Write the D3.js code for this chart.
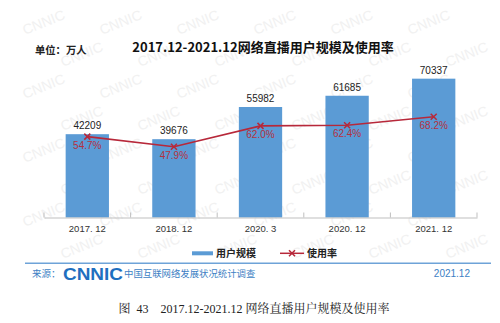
<!DOCTYPE html>
<html><head><meta charset="utf-8">
<script src="https://cdn.jsdelivr.net/npm/d3@7"></script>
<style>body{margin:0;background:#fff}svg{display:block}</style>
</head><body>
<script>
const categories = ["2017. 12","2018. 12","2020. 3","2020. 12","2021. 12"];
const users = [42209, 39676, 55982, 61685, 70337];
const rates = [54.7, 47.9, 62.0, 62.4, 68.2];
const rateLabels = ["54.7%","47.9%","62.0%","62.4%","68.2%"];
const legendLabels = ["用户规模","使用率"];

const W=500,H=323;
const svg=d3.select("body").append("svg").attr("width",W).attr("height",H);
const sans="'Liberation Sans', Arial, 'Noto Sans CJK SC', sans-serif";
const cjk="'Noto Sans CJK SC', 'Liberation Sans', sans-serif";

// faint watermark (kept inside the canvas)
const wm=svg.append("g").attr("fill","#f1f1f1").attr("font-family",sans).attr("font-size",14);
for(let r=0;r<8;r++){
  for(let c=0;c<6;c++){
    const x=25+c*77+(r%2)*38, y=35+r*32;
    if(x>450||y>300) continue;
    wm.append("text").attr("transform",`translate(${x},${y}) rotate(-22)`).text("CNNIC");
  }
}

const x0=44,x1=477,base=217.5;
const x=d3.scaleBand().domain(categories).range([x0,x1]).paddingInner(0).paddingOuter(0);
const y=d3.scaleLinear().domain([0,80000]).range([base,59.6]);
const y2=d3.scaleLinear().domain([0,100]).range([base,69.7]);
const bw=x.bandwidth()*0.5;

// title
svg.append("text").attr("x",263).attr("y",51.5).attr("text-anchor","middle")
  .attr("font-family",cjk).attr("font-weight","bold").attr("font-size",13).attr("fill","#111")
  .text("2017.12-2021.12网络直播用户规模及使用率");
svg.append("text").attr("x",35).attr("y",54).attr("font-family",cjk).attr("font-weight","bold")
  .attr("font-size",10.3).attr("fill","#222").text("单位：万人");

// bars
svg.append("g").selectAll("rect").data(users).join("rect")
  .attr("x",(d,i)=>x(categories[i])+x.bandwidth()/2-bw/2)
  .attr("y",d=>y(d)).attr("width",bw).attr("height",d=>base-y(d)).attr("fill","#5b9bd5");
svg.append("g").selectAll("text").data(users).join("text")
  .attr("x",(d,i)=>x(categories[i])+x.bandwidth()/2).attr("y",d=>y(d)-5)
  .attr("text-anchor","middle").attr("font-family",sans).attr("font-size",10).attr("fill","#222").text(d=>d);

// axis
const ax=svg.append("g").attr("transform",`translate(0,${base})`)
  .call(d3.axisBottom(x).tickSize(0).tickFormat(d=>d));
ax.select(".domain").attr("stroke","#bfbfbf");
ax.selectAll("text").attr("font-family",sans).attr("font-size",9.5).attr("fill","#333").attr("dy","0.75em").attr("y",7);
const bounds=[x0].concat(categories.map(c=>x(c)+x.bandwidth()));
svg.append("g").selectAll("line").data(bounds).join("line")
  .attr("x1",d=>d).attr("x2",d=>d).attr("y1",base).attr("y2",base-5).attr("stroke","#bfbfbf");

// line
const lineColor="#b7283a";
const cx=i=>x(categories[i])+x.bandwidth()/2;
svg.append("path").datum(rates).attr("fill","none").attr("stroke",lineColor).attr("stroke-width",1.6)
  .attr("d",d3.line().x((d,i)=>cx(i)).y(d=>y2(d)));
const m=3;
svg.append("g").selectAll("path").data(rates).join("path")
  .attr("d",(d,i)=>{const X=cx(i),Y=y2(d);return `M${X-m},${Y-m}L${X+m},${Y+m}M${X-m},${Y+m}L${X+m},${Y-m}`;})
  .attr("stroke",lineColor).attr("stroke-width",1.5);
svg.append("g").selectAll("text").data(rates).join("text")
  .attr("x",(d,i)=>cx(i)).attr("y",d=>y2(d)+12)
  .attr("text-anchor","middle").attr("font-family",sans).attr("font-size",10).attr("fill","#b53040")
  .text((d,i)=>rateLabels[i]);

// legend
const lg=svg.append("g").attr("font-family",cjk).attr("font-size",10).attr("fill","#222");
lg.append("rect").attr("x",192).attr("y",251.3).attr("width",21).attr("height",4).attr("fill","#5b9bd5");
lg.append("text").attr("x",216).attr("y",257).attr("font-weight","bold").text(legendLabels[0]);
lg.append("line").attr("x1",280).attr("x2",304).attr("y1",253.3).attr("y2",253.3).attr("stroke",lineColor).attr("stroke-width",1.5);
lg.append("path").attr("d",`M${292-m},${253.3-m}L${292+m},${253.3+m}M${292-m},${253.3+m}L${292+m},${253.3-m}`).attr("stroke",lineColor).attr("stroke-width",1.5);
lg.append("text").attr("x",307).attr("y",257).attr("font-weight","bold").text(legendLabels[1]);

// footer
const blue="#3d7fc4";
svg.append("line").attr("x1",25).attr("x2",491).attr("y1",263.3).attr("y2",263.3).attr("stroke","#6ea3d8").attr("stroke-width",1.5);
svg.append("text").attr("x",32).attr("y",277).attr("font-family",cjk).attr("font-size",9.5).attr("fill",blue).text("来源：");
svg.append("text").attr("x",63).attr("y",279.5).attr("font-family",sans).attr("font-weight","bold").attr("font-size",16)
  .attr("textLength",60).attr("lengthAdjust","spacingAndGlyphs").attr("fill","#1f6fbf").text("CNNIC");
svg.append("text").attr("x",124).attr("y",277).attr("font-family",cjk).attr("font-size",9.4).attr("fill",blue).text("中国互联网络发展状况统计调查");
svg.append("text").attr("x",470).attr("y",277).attr("text-anchor","end").attr("font-family",sans).attr("font-size",10).attr("fill",blue).text("2021.12");

// caption
svg.append("text").attr("x",254).attr("y",313).attr("text-anchor","middle")
  .attr("font-family","'Liberation Serif','Noto Serif CJK SC','Noto Sans CJK SC',serif").attr("font-size",12).attr("fill","#222")
  .attr("xml:space","preserve").text("图  43    2017.12-2021.12 网络直播用户规模及使用率");
</script>
</body></html>
